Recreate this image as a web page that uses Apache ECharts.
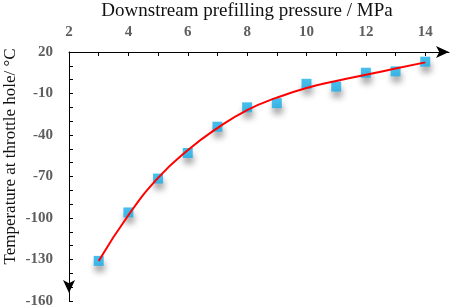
<!DOCTYPE html>
<html>
<head>
<meta charset="utf-8">
<script src="https://cdn.jsdelivr.net/npm/echarts@6/dist/echarts.min.js"></script>
<style>
  html, body { margin: 0; padding: 0; background: #fff; }
  #chart { width: 457px; height: 308px; }
</style>
</head>
<body>
<div id="chart"></div>
<script>
// measured points
const pressure = [3, 4, 5, 6, 7, 8, 9, 10, 11, 12, 13, 14];
const temperature = [-131, -96, -71.5, -53, -34, -20, -17, -3, -5, 5, 6, 13];
// fitted curve
const fitX = [3, 4, 5, 6, 7, 8, 9, 10, 11, 12, 13, 14];
const fitY = [-131, -98, -71, -51, -35, -22, -13, -6, -1, 3.5, 8, 12.5];
const xLabels = [2, 4, 6, 8, 10, 12, 14];
const yLabels = [20, -10, -40, -70, -100, -130, -160];

const labelStyle = { fontFamily: "Liberation Serif", fontSize: 15, fontWeight: "bold", color: "#5e5e5e" };

const chart = echarts.init(document.getElementById("chart"));
chart.setOption({
  animation: false,
  grid: { left: 69, top: 52, right: 8, bottom: 7, outerBoundsMode: "none", containLabel: false },
  xAxis: {
    type: "value",
    position: "top",
    min: 2, max: 14.8,
    interval: 1,
    name: "Downstream prefilling pressure / MPa",
    nameLocation: "middle",
    nameGap: 31,
    nameMoveOverlap: false,
    nameTextStyle: { fontFamily: "Liberation Serif", fontSize: 19, color: "#111", padding: [0, 24, 0, 0] },
    splitLine: { show: false },
    axisLine: { onZero: false, lineStyle: { color: "#000", width: 1 }, symbol: ["none", "arrow"], symbolSize: [9, 13] },
    axisTick: { inside: true, length: 4, customValues: [3, 4, 5, 6, 7, 8, 9, 10, 11, 12, 13, 14], lineStyle: { color: "#000" } },
    axisLabel: Object.assign({ margin: 12, customValues: xLabels }, labelStyle)
  },
  yAxis: {
    type: "value",
    min: -160, max: 20,
    interval: 10,
    name: "Temperature at throttle hole/ °C",
    nameLocation: "middle",
    nameGap: 50,
    nameMoveOverlap: false,
    nameTextStyle: { fontFamily: "Liberation Serif", fontSize: 17, color: "#111", padding: [0, 0, 0, 40] },
    splitLine: { show: false },
    axisLine: { onZero: false, lineStyle: { color: "#000", width: 1 }, symbol: ["arrow", "none"], symbolSize: [9, 13], symbolOffset: [8, 0] },
    axisTick: { inside: true, length: 4, lineStyle: { color: "#000" } },
    axisLabel: Object.assign({ margin: 16, customValues: yLabels }, labelStyle)
  },
  series: [
    {
      type: "scatter",
      data: pressure.map((x, i) => [x, temperature[i]]),
      symbol: "rect",
      symbolSize: 10,
      itemStyle: {
        color: "#16aee8",
        shadowColor: "rgba(0,0,0,0.45)",
        shadowBlur: 6,
        shadowOffsetX: 1,
        shadowOffsetY: 6
      },
      z: 2
    },
    {
      type: "line",
      data: fitX.map((x, i) => [x, fitY[i]]),
      smooth: true,
      showSymbol: false,
      lineStyle: { color: "#ff0000", width: 2 },
      z: 3
    }
  ]
});
</script>
</body>
</html>
